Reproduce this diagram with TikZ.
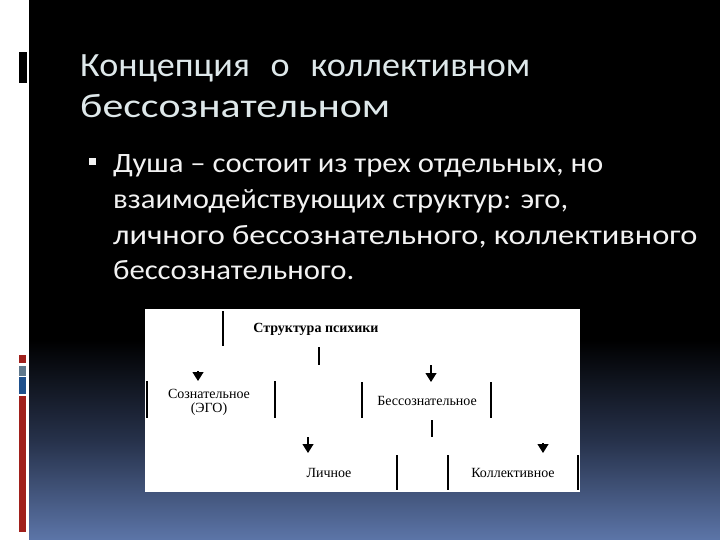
\documentclass[tikz,border=0pt]{standalone}
\usepackage{fontspec}
\setmainfont{Carlito}
\newfontfamily\diagfont{Liberation Serif}
\usetikzlibrary{arrows.meta}
\definecolor{titlecol}{RGB}{222,232,234}
\definecolor{bodycol}{RGB}{242,242,242}
\definecolor{barred}{RGB}{160,32,28}
\definecolor{bargrey}{RGB}{95,120,140}
\definecolor{barblue}{RGB}{30,80,140}
\definecolor{gradbot}{RGB}{92,117,168}
\definecolor{gradmid}{RGB}{38,49,74}
\newcommand{\fitw}[2]{\resizebox{#1}{\height}{#2}}
\tikzset{
  titletext/.style={anchor=base west, inner sep=0pt, text=titlecol, font=\fontsize{34}{40}\selectfont},
  bodytext/.style={anchor=base west, inner sep=0pt, text=bodycol, font=\fontsize{28}{32}\selectfont},
  diagtext/.style={inner sep=1pt, font=\diagfont\fontsize{14}{14}\selectfont, align=center},
  diagline/.style={line width=1.2pt, black},
  darrow/.style={line width=1.2pt, -{Triangle[width=11pt,length=9pt]}},
}
\begin{document}
\begin{tikzpicture}[x=1pt,y=-1pt]
\useasboundingbox (0,0) rectangle (720,540);
% background
\fill[white] (0,0) rectangle (720,540);
\fill[black] (29,0) rectangle (720,540);
\shade[top color=black, bottom color=gradbot, middle color=gradmid] (29,340) rectangle (720,540);
% left marks
\fill[black] (18,52) rectangle (27,83);
\draw[white, line width=0.8pt] (18.5,52) -- (18.5,83);
\fill[barred] (19,355) rectangle (26,363);
\fill[bargrey] (19,366) rectangle (26,376);
\fill[barblue] (19,377) rectangle (26,394);
\fill[barred] (19,396) rectangle (26,532);
% title
\node[titletext] (t1) at (80,77) {\fitw{450pt}{Концепция\hspace{0.35em} о\hspace{0.35em} коллективном}};
\node[titletext] (t2) at (80,118) {\fitw{310pt}{бессознательном}};
% body
\node[anchor=center, fill=bodycol, minimum size=7pt, inner sep=0pt] (bul) at (92,162) {};
\node[bodytext] (b1) at (113,173) {\fitw{490pt}{Душа – состоит из трех отдельных, но}};
\node[bodytext] (b2) at (113,209) {\fitw{455pt}{взаимодействующих структур: эго,}};
\node[bodytext] (b3) at (113,244) {\fitw{584pt}{личного бессознательного, коллективного}};
\node[bodytext] (b4) at (113,279) {\fitw{241pt}{бессознательного.}};
% diagram box
\fill[white] (145,309) rectangle (580,492);
\node[diagtext, font=\diagfont\bfseries\fontsize{14}{14}\selectfont] (root) at (316,329) {Структура психики};
\node[diagtext] (con) at (209,402) {Сознательное\\(ЭГО)};
\node[diagtext] (unc) at (427,401) {Бессознательное};
\node[diagtext] (per) at (329,473) {Личное};
\node[diagtext] (col) at (513,473) {Коллективное};
% fragments of lines
\coordinate (l1a) at (223,311); \coordinate (l1b) at (223,346);
\coordinate (l2a) at (319,347); \coordinate (l2b) at (319,365);
\coordinate (l3a) at (147,381); \coordinate (l3b) at (147,418);
\coordinate (l4a) at (275,381); \coordinate (l4b) at (275,418);
\coordinate (l5a) at (362,382); \coordinate (l5b) at (362,418);
\coordinate (l6a) at (491,382); \coordinate (l6b) at (491,418);
\coordinate (l7a) at (432,420); \coordinate (l7b) at (432,437);
\coordinate (l8a) at (397,455); \coordinate (l8b) at (397,490);
\coordinate (l9a) at (448,455); \coordinate (l9b) at (448,490);
\coordinate (l10a) at (578,455); \coordinate (l10b) at (578,490);
\foreach \n in {1,...,10} {\draw[diagline] (l\n a) -- (l\n b);}
% arrows
\coordinate (a1s) at (198,371); \coordinate (a1e) at (198,381);
\coordinate (a2s) at (431,365); \coordinate (a2e) at (431,382);
\coordinate (a3s) at (308,437); \coordinate (a3e) at (308,453);
\coordinate (a4s) at (543,443); \coordinate (a4e) at (543,453);
\draw[darrow] (a1s) -- (a1e);
\draw[darrow] (a2s) -- (a2e);
\draw[darrow] (a3s) -- (a3e);
\draw[darrow] (a4s) -- (a4e);
\end{tikzpicture}
\end{document}
